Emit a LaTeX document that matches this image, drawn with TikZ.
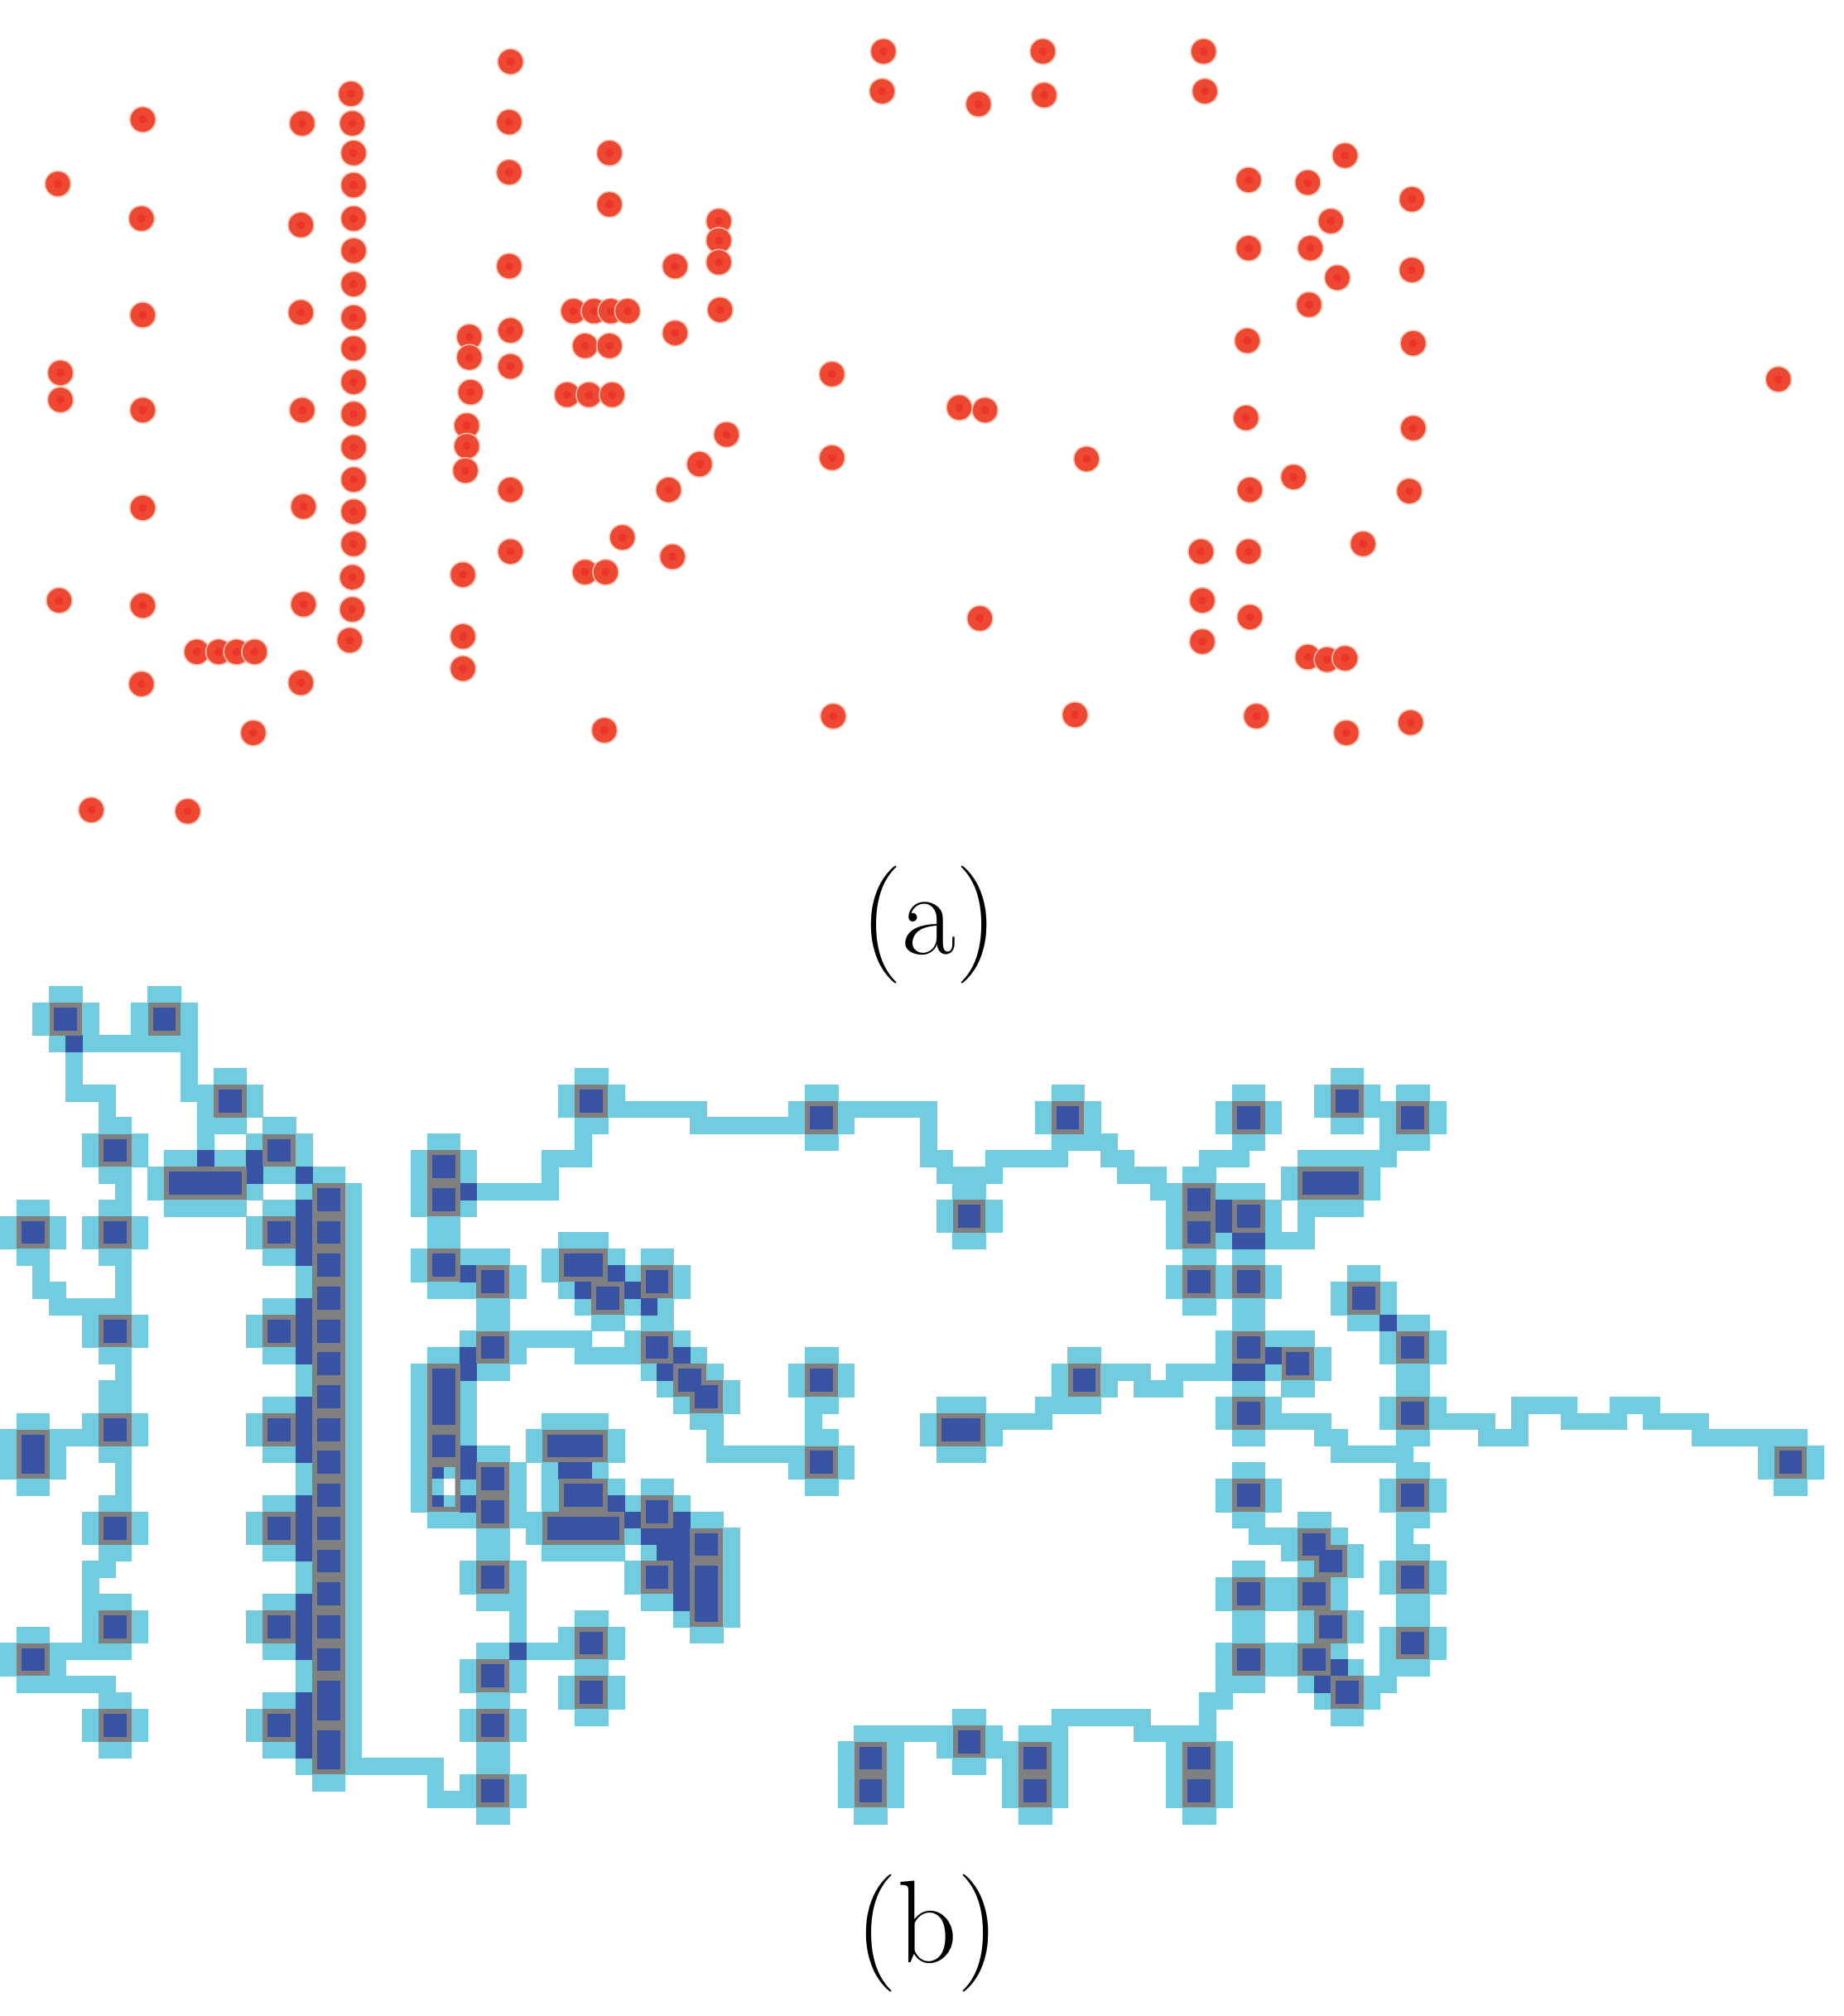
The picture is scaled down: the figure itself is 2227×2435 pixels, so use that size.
\documentclass[tikz,border=0pt]{standalone}
\definecolor{cyanc}{RGB}{112,204,222}
\definecolor{darkc}{RGB}{56,82,164}
\definecolor{grayc}{RGB}{128,128,128}
\definecolor{dotc}{RGB}{239,72,50}
\definecolor{dotin}{RGB}{237,52,42}
\definecolor{dotedge}{RGB}{249,190,170}
\tikzset{
  cyancell/.style={fill=cyanc,draw=cyanc,line width=0.15pt},
  darkcell/.style={fill=darkc,draw=darkc,line width=0.15pt},
  pingray/.style={fill=grayc},
  pinblue/.style={fill=darkc},
  lbl/.style={font=\fontsize{42.6}{50}\selectfont,anchor=base,inner sep=0pt}
}
\newcommand\pinlist{3/1,9/1,13/6,6/9,16/9,10/11,11/11,12/11,13/11,1/14,6/14,16/14,6/20,16/20,6/26,16/26,1/27,1/28,6/32,16/32,6/38,16/38,1/40,6/44,16/44,
19/12,19/14,19/16,19/18,19/20,19/22,19/24,19/26,19/28,19/30,19/32,19/34,19/36,19/38,19/40,19/42,19/43,19/45,19/46,
26/10,26/12,26/16,26/23,26/24,26/25,26/27,
29/17,29/21,29/29,29/31,29/35,29/41,29/44,29/48,
35/6,34/16,35/16,36/18,39/17,39/21,41/23,42/24,
33/27,34/27,35/27,34/30,35/30,33/32,34/32,35/32,36/32,39/31,39/35,42/33,42/35,42/36,42/37,35/39,35/42,
49/7,49/23,49/28,52/46,52/48,
57/26,58/26,58/13,58/45,62/46,62/48,64/7,65/23,
72/12,72/14,72/17,72/46,72/48,75/7,75/13,75/17,75/21,75/25,75/30,75/36,75/40,
78/22,79/11,80/11,81/11,81/6,79/33,80/34,79/36,80/38,79/40,81/42,82/18,
85/7,85/21,85/25,85/30,85/35,85/39,108/28}
\newcommand\speciallist{26/29,26/30}
\begin{document}
\begin{tikzpicture}[x=0.3pt,y=-0.3pt]
\useasboundingbox (0,0) rectangle (2227,2435);
% ---------------- (a) scattered points ----------------
\begin{scope}[x=0.4659pt,y=-0.4659pt]
\foreach \px/\py in {45/143,47/290,47/311,46/467,71/630,146/631,
111/93,110/170,111/245,111/319,111/395,111/471,110/532,
153/507,170/507,184/507,198/507,197/570,
235/96,234/175,234/243,235/319,236/394,236/470,234/531,
273/73,274/96,275/119,275/144,275/170,275/195,275/221,275/247,275/271,275/297,275/322,275/348,275/373,275/398,275/423,274/449,274/474,272/498,
365/262,365/278,366/305,363/331,363/347,362/366,360/447,360/495,360/520,
397/48,396/95,396/134,396/207,397/257,397/285,397/381,397/429,
446/242,462/242,475/242,488/242,455/269,474/269,441/307,458/307,476/307,
474/119,474/159,525/207,525/259,
559/172,559/187,559/204,560/241,
565/338,544/361,520/381,484/418,455/445,471/445,523/433,470/568,
647/291,647/356,648/557,
687/40,686/71,761/81,811/40,812/74,936/40,937/71,
746/317,766/319,845/357,762/481,836/556,
971/140,971/193,970/265,969/325,972/381,971/429,972/480,977/557,
1017/142,1035/172,1046/121,1019/193,1040/216,1018/237,
1098/155,1098/210,1099/267,1099/333,1096/382,
1006/371,1060/423,
934/429,935/467,935/499,
1017/511,1032/513,1046/512,
1047/570,1097/562,
1383/295}{
  \fill[dotedge] (\px,\py) circle[radius=4.9pt];
  \fill[dotc] (\px,\py) circle[radius=4.4pt];
  \fill[dotin] (\px,\py) circle[radius=1.5pt];
}
\end{scope}
\node[lbl] (la) at (1122,1152) {(a)};
% ---------------- (b) routing grid ----------------
\begin{scope}[yshift=-357.3pt,x=5.952pt,y=-5.952pt]
% halos of pins
\foreach \c/\r in \pinlist {
  \fill[cyancell] (\c,{\r-1}) rectangle ({\c+2},\r);
  \fill[cyancell] (\c,{\r+2}) rectangle ({\c+2},{\r+3});
  \fill[cyancell] ({\c-1},\r) rectangle (\c,{\r+2});
  \fill[cyancell] ({\c+2},\r) rectangle ({\c+3},{\r+2});
}
\foreach \c/\r in \speciallist {
  \fill[cyancell] (\c,{\r-1}) rectangle ({\c+2},\r);
  \fill[cyancell] (\c,{\r+2}) rectangle ({\c+2},{\r+3});
  \fill[cyancell] ({\c-1},\r) rectangle (\c,{\r+2});
  \fill[cyancell] ({\c+2},\r) rectangle ({\c+3},{\r+2});
}
% routed wires
\foreach \a/\b/\c/\d in {3/3/11/3,4/4/4/6,4/6/6/6,6/7/6/7,11/4/11/6,12/8/12/9,7/12/7/12,7/17/7/18,2/17/2/18,3/18/3/18,3/19/7/19,7/23/7/23,6/24/7/24,
29/12/33/12,33/10/33/11,33/10/35/10,35/9/35/9,
31/21/35/21,35/22/38/22,
37/7/42/7,42/8/47/8,51/7/56/7,56/8/56/10,57/10/57/11,58/11/60/11,60/10/64/10,
66/9/67/9,67/10/68/10,68/11/70/11,70/12/70/12,73/10/75/10,
77/15/79/15,79/14/79/14,83/10/84/10,84/9/84/9,
71/23/74/23,69/24/71/24,68/23/69/23,
88/26/90/26,90/27/92/27,92/25/92/26,93/25/95/25,95/26/98/26,98/25/100/25,100/26/103/26,103/27/107/27,
78/26/80/26,80/27/81/27,81/28/85/28,
85/33/85/33,84/41/84/41,83/42/84/42,
61/26/63/26,63/25/64/25,76/33/77/33,
74/42/74/42,73/43/74/43,73/44/73/44,69/45/71/45,64/44/69/44,64/45/64/45,54/45/56/45,
43/27/43/27,43/28/47/28,49/26/49/26,
28/32/28/32,32/32/32/32,31/37/31/39,32/40/33/40,
26/48/26/49,27/49/27/49,21/47/26/47,
4/27/4/27,7/29/7/30,5/35/6/35,5/36/5/37,4/40/5/40,3/42/6/42,41/38/41/38}{
  \fill[cyancell] (\a,\b) rectangle ({\c+1},{\d+1});
}
% dark (blocked) cells
\foreach \a/\b in {4/3,12/10,15/10,15/11,18/11,18/13,18/14,18/15,18/16,18/19,18/20,18/21,18/22,18/25,18/26,18/27,18/28,18/31,18/32,18/33,18/34,18/37,18/38,18/39,18/40,18/43,18/44,18/45,18/46,
28/12,28/17,28/22,28/23,28/28,28/29,28/31,
37/17,35/18,38/18,39/19,41/22,40/23,
34/29,35/29,37/31,38/32,41/32,39/33,40/33,41/33,40/34,41/34,41/35,41/36,41/37,31/40,
74/13,74/14,75/15,76/15,77/22,75/23,76/23,84/20,81/41,80/42}{
  \fill[darkcell] (\a,\b) rectangle ({\a+1},{\b+1});
}
% pins
\foreach \c/\r in \pinlist { \fill[pingray] (\c,\r) rectangle ({\c+2},{\r+2}); }
\foreach \c/\r in \speciallist { \fill[pingray] (\c,\r) rectangle ({\c+2},{\r+2}); }
\foreach \c/\r in \pinlist { \fill[pinblue] ({\c+0.3},{\r+0.3}) rectangle ({\c+1.7},{\r+1.7}); }
% partly open pin
\begin{scope}
  \clip (26.3,29.3) rectangle (27.7,31.7);
  \fill[darkc] (26,29) rectangle (27,30);
  \fill[cyanc] (27,29) rectangle (28,30);
  \fill[cyanc] (26,30) rectangle (27,31);
  \fill[white] (27,30) rectangle (28,31);
  \fill[darkc] (26,31) rectangle (27,32);
  \fill[cyanc] (27,31) rectangle (28,32);
\end{scope}
\end{scope}
\node[lbl] (lb) at (1120,2370) {(b)};
\end{tikzpicture}
\end{document}
